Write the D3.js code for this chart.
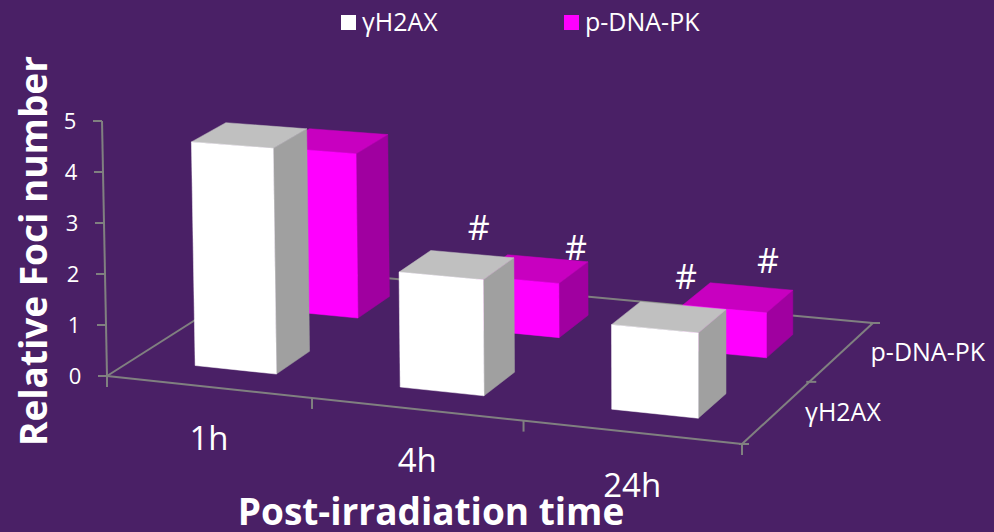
<!DOCTYPE html>
<html><head><meta charset="utf-8">
<script src="https://cdn.jsdelivr.net/npm/d3@7"></script>
<style>html,body{margin:0;padding:0;background:#4a2066}svg{display:block}text{font-family:"Open Sans",sans-serif;fill:#fff}</style>
</head><body><svg id="c" width="994" height="532"></svg>
<script>
const categories = ["1h","4h","24h"];
const seriesNames = ["p-DNA-PK","γH2AX"];
const gammaH2AX = [4.4,2.21,1.59];
const pDNAPK = [3.32,1.07,0.87];
const valueTicks = [0,1,2,3,4,5];
const hashSeries = ["γH2AX","p-DNA-PK","γH2AX","p-DNA-PK"];
const hashCategory = ["4h","4h","24h","24h"];

const W=994,H=532;
const svg=d3.select("#c");
svg.append("rect").attr("width",W).attr("height",H).attr("fill","#4a2066");

// floor quad corners
const A=[107,376],B=[742,444],C=[873,323],D=[277,268];
function homography(){
  const dx1=B[0]-C[0],dx2=D[0]-C[0],sx=A[0]-B[0]+C[0]-D[0];
  const dy1=B[1]-C[1],dy2=D[1]-C[1],sy=A[1]-B[1]+C[1]-D[1];
  const den=dx1*dy2-dx2*dy1;
  const g=(sx*dy2-dx2*sy)/den,h=(dx1*sy-sx*dy1)/den;
  return (u,v)=>{
    const w=g*u+h*v+1;
    return [((B[0]-A[0]+g*B[0])*u+(D[0]-A[0]+h*D[0])*v+A[0])/w,
            ((B[1]-A[1]+g*B[1])*u+(D[1]-A[1]+h*D[1])*v+A[1])/w];
  };
}
const persp=homography();
const floor=(u,v)=>{
  const p=persp(u,v),mix=0.35;
  return [0,1].map(k=>(1-mix)*p[k]+mix*((1-u)*(1-v)*A[k]+u*(1-v)*B[k]+u*v*C[k]+(1-u)*v*D[k]));
};
const uScale=d3.scaleBand().domain(categories).range([0.002,1.002]).paddingInner(0.6).paddingOuter(0.3);
const vScale=d3.scaleBand().domain(["γH2AX","p-DNA-PK"]).range([0,1]).paddingInner(0.6).paddingOuter(0.3);
const hScale=d3.scaleLinear().domain([0,5]).range([0,255]);
function project(u,v,val){
  const p=floor(u,v);
  const s=hScale(val)*(1+0.07*u)*(1-0.07*v);
  const lean=-0.0196*Math.max(0,1-(p[0]-107)/593)*s;
  return [p[0]+lean,p[1]-s];
}
const line=d3.line();
const axisCol="#808080";
const gAxis=svg.append("g").attr("stroke",axisCol).attr("stroke-width",2).attr("fill","none");
const seg=(a,b)=>gAxis.append("path").attr("d",line([a,b]));
seg(A,B);seg(B,C);seg(C,D);seg(D,A);
seg(project(0,0,0),project(0,0,5));
valueTicks.forEach(t=>{const p=project(0,0,t);seg([p[0]-9,p[1]],p);});
d3.range(categories.length+1).map(i=>i/categories.length).forEach(u=>{const p=floor(u,0);seg(p,[p[0],p[1]+11]);});
[0,0.5,1].forEach(v=>{const p=floor(1,v);seg([p[0]-3,p[1]],[p[0]+7,p[1]]);});

const gBars=svg.append("g");
function bar(cat,name,val,cols){
  const u0=uScale(cat),u1=u0+uScale.bandwidth(),v0=vScale(name),v1=v0+vScale.bandwidth();
  const faces=[
    [[[u1,v0,0],[u1,v1,0],[u1,v1,val],[u1,v0,val]],cols[2]],
    [[[u0,v0,val],[u1,v0,val],[u1,v1,val],[u0,v1,val]],cols[1]],
    [[[u0,v0,0],[u1,v0,0],[u1,v0,val],[u0,v0,val]],cols[0]]
  ];
  faces.forEach(([pts,c])=>{
    gBars.append("path").attr("d",line(pts.map(q=>project(...q)))+"Z")
      .attr("fill",c).attr("stroke",c).attr("stroke-width",0.5);
  });
}
const magenta=["#ff00ff","#c800c0","#a000a0"],white=["#ffffff","#c0c0c0","#a0a0a0"];
categories.forEach((c,i)=>bar(c,"p-DNA-PK",pDNAPK[i],magenta));
categories.forEach((c,i)=>bar(c,"γH2AX",gammaH2AX[i],white));

const label=(x,y,t,size,anchor,weight)=>svg.append("text").attr("x",x).attr("y",y).attr("font-size",size)
  .attr("text-anchor",anchor||"middle").attr("font-weight",weight||400).text(t);
valueTicks.forEach(t=>{const p=project(0,0,t);label(p[0]-32,p[1]+8,t,22);});
const catDy=[63,63,65];
categories.forEach((c,i)=>{const p=floor(uScale(c)+uScale.bandwidth()/2,0);label(p[0]-1,p[1]+catDy[i],c,33);});
seriesNames.forEach(n=>{const p=floor(1,vScale(n)+vScale.bandwidth()/2);label(p[0]+29,p[1]+9,n,25,"start");});
// "#" marks sit loosely above their bars
const hashDx=[22,43,17,30],hashDy=[-25,-9,-28,-25];
hashSeries.forEach((n,k)=>{
  const c=hashCategory[k],i=categories.indexOf(c);
  const u=uScale(c)+uScale.bandwidth()/2,v=vScale(n)+vScale.bandwidth()/2;
  const p=project(u,v,(n==="γH2AX"?gammaH2AX:pDNAPK)[i]);
  label(p[0]+hashDx[k],p[1]+hashDy[k],"#",34);
});
label(431,525,"Post-irradiation time",37,"middle",700);
svg.append("text").attr("transform","translate(47,251) rotate(-90)").attr("font-size",37).attr("font-weight",700).attr("text-anchor","middle").text("Relative Foci number");
const legendItems=[["γH2AX","#ffffff",341],["p-DNA-PK","#ff00ff",564]];
legendItems.forEach(([n,c,x])=>{
  svg.append("rect").attr("x",x).attr("y",15).attr("width",15).attr("height",15).attr("fill",c);
  label(x+21,31,n,25,"start");
});
</script></body></html>
